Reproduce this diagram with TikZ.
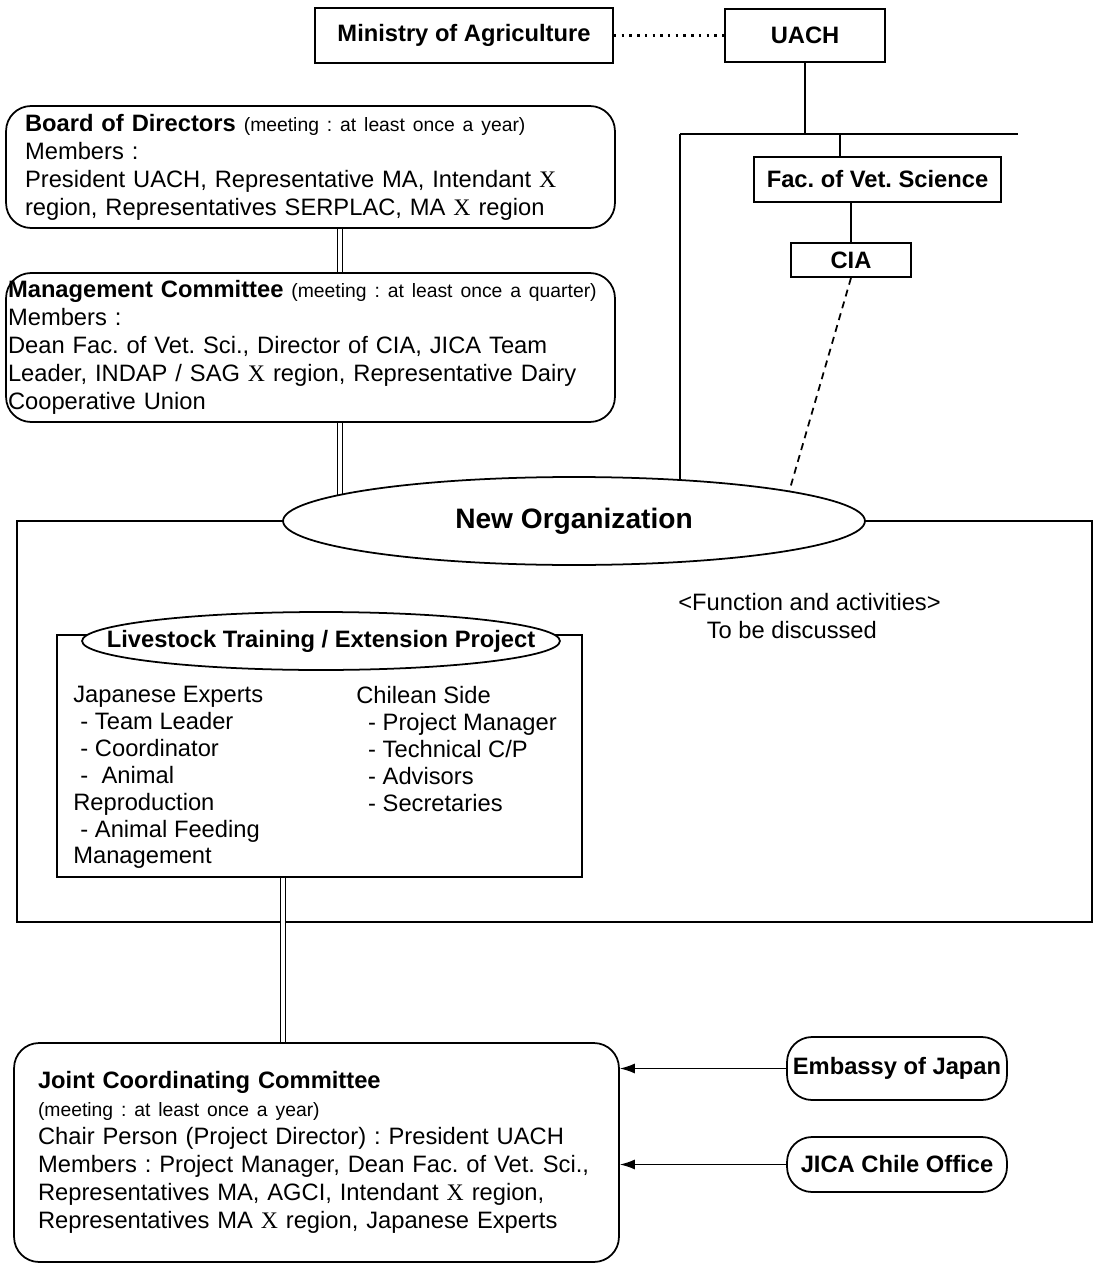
\documentclass[tikz,border=0pt]{standalone}
\usepackage{fontspec}
\setmainfont{Liberation Sans}
\newfontfamily\romanx{Liberation Serif}
\usetikzlibrary{shapes.geometric,backgrounds,arrows.meta}
\frenchspacing
\newcommand{\bodyfont}{\fontsize{13.5}{15.9}\selectfont}
\newcommand{\hdfont}{\fontsize{13.5}{15.9}\selectfont\bfseries}
\newcommand{\smallfont}{\fontsize{11}{13}\selectfont}
\newcommand{\regx}{{\romanx X}}

\begin{document}
\begin{tikzpicture}[
        x=0.02cm, y=-0.02cm,
        box/.style={rectangle, draw, line width=1pt, inner sep=0pt, font=\hdfont},
        tagbox/.style={box, rounded corners=0.5cm},
        panel/.style={rectangle, draw, line width=1pt, rounded corners=0.5cm, align=left, font=\bodyfont},
        oval/.style={ellipse, draw, line width=1pt, fill=white, inner sep=0pt, font=\hdfont},
        link/.style={line width=1pt},
        dbl/.style={double, double distance=0.08cm, line width=0.7pt},
        arrow/.style={-{Latex[length=0.3cm, width=0.2cm]}, line width=0.8pt}
    ]
        \useasboundingbox (0,0) rectangle (1095,1270);

        % Top row: ministry and university
        \node[box, minimum width=5.96cm, minimum height=1.1cm] (ma) at (464,35.5) {Ministry of Agriculture};
        \node[box, minimum width=3.2cm, minimum height=1.06cm] (uach) at (805,35.5) {UACH};
        \node[box, minimum width=4.94cm, minimum height=0.9cm] (fac) at (877.5,179.5) {Fac. of Vet. Science};
        \node[box, minimum width=2.4cm, minimum height=0.68cm] (cia) at (851,260) {CIA};
        \coordinate (busl) at (680,134);
        \coordinate (busr) at (1018,134);

        % Left column: committees
        \node[panel, text width=11.42cm, inner xsep=0.38cm, minimum height=2.44cm] (board) at (310.5,167)
            {\textbf{Board of Directors} {\smallfont(meeting : at least once a year)}\\
             Members :\\
             President UACH, Representative MA, Intendant \regx\\
             region, Representatives SERPLAC, MA \regx\ region};
        \node[panel, text width=12.1cm, inner xsep=0.04cm, minimum height=2.98cm] (mgmt) at (310.5,347.5)
            {\textbf{Management Committee} {\smallfont(meeting : at least once a quarter)}\\
             Members :\\
             Dean Fac. of Vet. Sci., Director of CIA, JICA Team\\
             Leader, INDAP / SAG \regx\ region, Representative Dairy\\
             Cooperative Union};

        % New organization frame
        \node[draw, line width=1pt, minimum width=21.5cm, minimum height=8.02cm] (frame) at (554.5,721.5) {};
        \node[oval, minimum width=11.64cm, minimum height=1.76cm, font=\fontsize{16}{19}\selectfont\bfseries] (neworg) at (574,521) {New Organization};
        \node[anchor=north west, inner sep=0pt, align=left, font=\bodyfont] (todo) at (678,593)
            {<Function and activities>\\\hspace*{1.2em}To be discussed};

        % Project box
        \node[draw, line width=1pt, minimum width=10.5cm, minimum height=4.84cm] (lts) at (319.5,756) {};
        \node[oval, minimum width=9.56cm, minimum height=1.16cm] (ltsoval) at (321,641)
            {\makebox[0pt]{Livestock Training / Extension Project}};
        \node[anchor=north west, inner sep=0pt, align=left, font=\fontsize{13.5}{15.3}\selectfont] (jpx) at (73,686)
            {Japanese Experts\\\hspace*{0.3em}- Team Leader\\\hspace*{0.3em}- Coordinator\\\hspace*{0.3em}-\ \ Animal\\Reproduction\\\hspace*{0.3em}- Animal Feeding\\Management};
        \node[anchor=north west, inner sep=0pt, align=left, font=\fontsize{13.5}{15.3}\selectfont] (chl) at (356,686)
            {Chilean Side\\\hspace*{0.5em}- Project Manager\\\hspace*{0.5em}- Technical C/P\\\hspace*{0.5em}- Advisors\\\hspace*{0.5em}- Secretaries};

        % Bottom: joint committee and outside bodies
        \node[panel, text width=11.14cm, inner xsep=0.48cm, minimum height=4.38cm] (jcc) at (316.5,1152.5)
            {\textbf{Joint Coordinating Committee}\\
             {\smallfont(meeting : at least once a year)}\\
             Chair Person (Project Director) : President UACH\\
             Members : Project Manager, Dean Fac. of Vet. Sci.,\\
             Representatives MA, AGCI, Intendant \regx\ region,\\
             Representatives MA \regx\ region, Japanese Experts};
        \node[tagbox, minimum width=4.4cm, minimum height=1.26cm] (emb) at (897,1068.5) {Embassy of Japan};
        \node[tagbox, minimum width=4.4cm, minimum height=1.1cm] (jica) at (897,1164.5) {JICA Chile Office};

        % Lines
        \draw[line width=1.4pt, dash pattern=on 1.4pt off 3pt] (ma.east) -- (uach.west);
        \draw[link] (uach.south) -- (uach.south |- busl);
        \draw[link] (busl) -- (busr);
        \draw[link] ([xshift=-0.75cm]fac.north) -- ([xshift=-0.75cm]fac.north |- busl);
        \draw[link] (cia.north) -- (cia.north |- fac.south);
        \draw[link, dash pattern=on 4pt off 3pt] (cia.south) -- (neworg.8);
        \draw[dbl] ([xshift=0.59cm]board.south) -- ([xshift=0.59cm]board.south |- mgmt.north);
        \draw[dbl] ([xshift=-0.73cm]lts.south) -- ([xshift=-0.73cm]lts.south |- jcc.north);
        \begin{scope}[on background layer]
            \draw[link] (busl) -- (busl |- neworg.center);
            \draw[dbl] ([xshift=0.59cm]mgmt.south) -- ([xshift=0.59cm]mgmt.south |- neworg.center);
        \end{scope}

        % Arrows
        \draw[arrow] (emb.west) -- (emb.west -| jcc.east);
        \draw[arrow] (jica.west) -- (jica.west -| jcc.east);

    \end{tikzpicture}
\end{document}
